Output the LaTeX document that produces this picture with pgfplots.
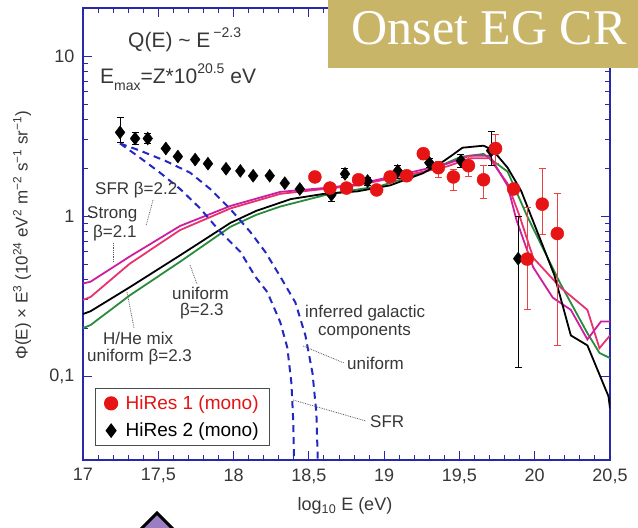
\documentclass[border=0pt]{standalone}
\usepackage{pgfplots}
\pgfplotsset{compat=1.18}
\usepackage{fontspec}
\setmainfont{Liberation Sans}
\newfontfamily\titlefont{Liberation Serif}
\definecolor{navy}{RGB}{40,40,170}
\definecolor{gold}{RGB}{201,181,104}
\definecolor{txt}{RGB}{55,55,55}
\definecolor{magSFR}{RGB}{205,30,160}
\definecolor{pinkS}{RGB}{232,50,110}
\definecolor{grn}{RGB}{40,140,60}
\definecolor{bdash}{RGB}{35,40,195}
\definecolor{hred}{RGB}{230,20,20}
\definecolor{purp}{RGB}{155,125,195}
\begin{document}
\begin{tikzpicture}
\useasboundingbox (-83pt,-68pt) rectangle (555pt,460pt);
\begin{axis}[
  at={(0pt,0pt)}, anchor=south west, scale only axis,
  width=527pt, height=452pt,
  xmin=17, xmax=20.5, ymode=log, ymin=0.03, ymax=20,
  xtick={17,17.5,18,18.5,19,19.5,20,20.5},
  xticklabels={17,{17,5},18,{18,5},19,{19,5},20,{20,5}},
  minor x tick num=4,
  ytick={0.1,1,10}, yticklabels={{0,1},1,10},
  tick align=inside,
  axis line style={navy, line width=1.3pt},
  tick style={navy, line width=0.9pt},
  major tick length=9pt, minor tick length=5pt,
  xticklabel style={font=\fontsize{18}{20}\selectfont, text=txt, yshift=-5pt},
  yticklabel style={font=\fontsize{18}{20}\selectfont, text=txt, xshift=-5pt},
  legend style={at={(0.0228,0.159)}, anchor=north west, draw=black!70, line width=1.2pt,
    font=\fontsize{19}{21}\selectfont, inner xsep=9pt, inner ysep=5pt, row sep=8pt},
  legend cell align=left, reverse legend,
]
% model curves
\addplot[grn, line width=1.8pt, forget plot] coordinates {
(17.0,0.20)(17.05,0.209)(17.31,0.32)(17.645,0.52)(17.98,0.86)(18.15,1.02)(18.31,1.15)(18.64,1.38)
(18.98,1.55)(19.31,1.95)(19.51,2.35)(19.66,2.45)(19.82,1.9)(19.95,1.0)(20.17,0.38)
(20.35,0.186)(20.43,0.14)(20.5,0.13)};
\addplot[pinkS, line width=1.8pt, forget plot] coordinates {
(17.0,0.30)(17.05,0.313)(17.31,0.505)(17.645,0.82)(17.98,1.12)(18.31,1.38)(18.6,1.48)
(18.82,1.56)(19.04,1.72)(19.26,1.9)(19.42,2.05)(19.57,2.3)(19.70,2.3)(19.82,1.6)
(19.9,1.0)(19.99,0.55)(20.17,0.36)(20.35,0.26)(20.43,0.15)(20.5,0.18)};
\addplot[magSFR, line width=1.8pt, forget plot] coordinates {
(17.0,0.38)(17.05,0.39)(17.31,0.56)(17.645,0.87)(17.98,1.16)(18.31,1.42)(18.6,1.50)
(18.82,1.58)(19.04,1.76)(19.26,1.96)(19.42,2.13)(19.57,2.39)(19.70,2.39)(19.82,1.55)
(19.88,0.94)(19.99,0.48)(20.12,0.31)(20.24,0.26)(20.35,0.17)(20.44,0.22)(20.5,0.22)};
\addplot[black, line width=1.8pt, forget plot] coordinates {
(17.0,0.245)(17.05,0.255)(17.31,0.36)(17.645,0.57)(17.98,0.91)(18.15,1.08)(18.38,1.28)
(18.6,1.38)(18.82,1.43)(19.04,1.56)(19.26,1.86)(19.38,2.16)(19.45,2.4)(19.52,2.68)
(19.66,2.76)(19.72,2.6)(19.82,2.01)(19.91,1.44)(20.13,0.43)(20.24,0.18)(20.35,0.156)
(20.49,0.075)(20.5,0.063)};
% galactic components
\addplot[bdash, line width=2pt, dash pattern=on 7pt off 5pt, forget plot] coordinates {
(17.246,2.85)(17.379,2.32)(17.512,1.87)(17.645,1.48)(17.778,1.12)(17.911,0.80)(18.045,0.60)
(18.144,0.42)(18.224,0.336)(18.31,0.218)(18.357,0.151)(18.384,0.091)(18.397,0.051)(18.404,0.021)};
\addplot[bdash, line width=2pt, dash pattern=on 7pt off 5pt, forget plot] coordinates {
(17.246,2.85)(17.379,2.57)(17.546,2.22)(17.712,1.87)(17.845,1.48)(17.978,1.11)(18.11,0.80)
(18.21,0.60)(18.31,0.42)(18.41,0.29)(18.477,0.18)(18.524,0.105)(18.55,0.059)(18.564,0.021)};
% HiRes 2
\addplot[only marks, mark=diamond*, mark size=6.5pt, black,
  error bars/.cd, y dir=both, y explicit,
  error bar style={black, line width=0.9pt},
  error mark options={rotate=90, mark size=3.5pt, black, line width=0.9pt}]
coordinates {
(17.246,3.34) += (0,0.81) -= (0,0.44)
(17.346,3.06) += (0,0.3) -= (0,0.25)
(17.43,3.06) += (0,0.25) -= (0,0.2)
(17.55,2.65) += (0,0) -= (0,0)
(17.63,2.36) += (0,0) -= (0,0)
(17.745,2.26) += (0,0) -= (0,0)
(17.83,2.13) += (0,0) -= (0,0)
(17.95,1.98) += (0,0) -= (0,0)
(18.045,1.92) += (0,0) -= (0,0)
(18.13,1.79) += (0,0) -= (0,0)
(18.24,1.79) += (0,0) -= (0,0)
(18.34,1.61) += (0,0) -= (0,0)
(18.44,1.48) += (0,0) -= (0,0)
(18.65,1.36) += (0,0.12) -= (0,0.12)
(18.74,1.84) += (0,0.15) -= (0,0.1)
(18.89,1.66) += (0,0.1) -= (0,0.1)
(19.09,1.92) += (0,0.15) -= (0,0.2)
(19.30,2.16) += (0,0.15) -= (0,0.15)
(19.51,2.22) += (0,0.2) -= (0,0.2)
(19.71,2.57) += (0,0.8) -= (0,0.5)
(19.89,0.543) += (0,0.46) -= (0,0.43)
};
\addlegendentry{\hspace{6pt}\textcolor{black}{HiRes 2 (mono)}}
% HiRes 1
\addplot[only marks, mark=*, mark size=6.5pt, hred,
  error bars/.cd, y dir=both, y explicit,
  error bar style={hred!80, line width=0.8pt},
  error mark options={rotate=90, mark size=3.5pt, hred!80, line width=0.8pt}]
coordinates {
(18.54,1.76) += (0,0) -= (0,0)
(18.64,1.50) += (0,0.1) -= (0,0.1)
(18.75,1.50) += (0,0.1) -= (0,0.1)
(18.83,1.69) += (0,0.1) -= (0,0.1)
(18.95,1.46) += (0,0.1) -= (0,0.1)
(19.04,1.76) += (0,0.12) -= (0,0.12)
(19.15,1.79) += (0,0.12) -= (0,0.12)
(19.26,2.46) += (0,0.2) -= (0,0.2)
(19.36,2.01) += (0,0.2) -= (0,0.25)
(19.46,1.76) += (0,0.2) -= (0,0.3)
(19.56,2.07) += (0,0.3) -= (0,0.3)
(19.66,1.69) += (0,0.4) -= (0,0.4)
(19.74,2.65) += (0,0.6) -= (0,0.5)
(19.86,1.48) += (0,0) -= (0,0)
(19.95,0.54) += (0,0.6) -= (0,0.28)
(20.05,1.19) += (0,0.79) -= (0,0.42)
(20.15,0.78) += (0,0.6) -= (0,0.625)
};
\addlegendentry{\hspace{6pt}\textcolor{hred}{HiRes 1 (mono)}}
\end{axis}
\begin{scope}[x=1pt,y=-1pt,shift={(-83pt,460pt)}]
% gold title box
\fill[gold] (328,-2) rectangle (640,68);
\node[font=\titlefont\fontsize{50}{50}\selectfont, text=white, anchor=base, inner sep=0pt] at (489,45) {Onset EG CR};
% purple diamond decoration
\draw[fill=purp, draw=black, line width=3pt] (157,513) -- (178,534) -- (157,555) -- (136,534) -- cycle;
% header annotations
\node[anchor=base west, inner sep=0pt, text=txt, font=\fontsize{21}{21}\selectfont] at (128,48)
  {Q(E) \textasciitilde{} E\hspace{3pt}\raisebox{10pt}{\fontsize{14}{14}\selectfont −2.3}};
\node[anchor=base west, inner sep=0pt, text=txt, font=\fontsize{21}{21}\selectfont] at (100,84)
  {E\raisebox{-7pt}{\fontsize{14}{14}\selectfont max}=Z*10\raisebox{10pt}{\fontsize{14}{14}\selectfont 20.5} eV};
% curve labels
\begin{scope}[every node/.style={anchor=west, inner sep=0pt, text=txt, font=\fontsize{17}{19}\selectfont}]
\node at (95,190) {SFR β=2.2};
\node at (87,214) {Strong};
\node at (93,233) {β=2.1};
\node at (172,293) {uniform};
\node at (180,311) {β=2.3};
\node at (103,338) {H/He mix};
\node at (87,357) {uniform β=2.3};
\node at (305,313) {inferred galactic};
\node at (318,332) {components};
\node at (347,363) {uniform};
\node at (370,422) {SFR};
\end{scope}
% pointers
\begin{scope}[densely dotted, draw=black!65, line width=0.8pt]
\draw (153,200) -- (146,226);
\draw (113,243) -- (113,262);
\draw (190,265) -- (197,284);
\draw (127,292) -- (134,328);
\draw (303,346) -- (344,363);
\draw (293,400) -- (366,421);
\end{scope}
% axis titles
\node[text=txt, font=\fontsize{18}{20}\selectfont] at (345,506) {log\textsubscript{10} E (eV)};
\node[text=txt, rotate=90, font=\fontsize{17}{19}\selectfont] at (22,235)
  {Φ(E) × E\textsuperscript{3} (10\textsuperscript{24} eV\textsuperscript{2} m\textsuperscript{−2} s\textsuperscript{−1} sr\textsuperscript{−1})};
\end{scope}
\end{tikzpicture}
\end{document}
